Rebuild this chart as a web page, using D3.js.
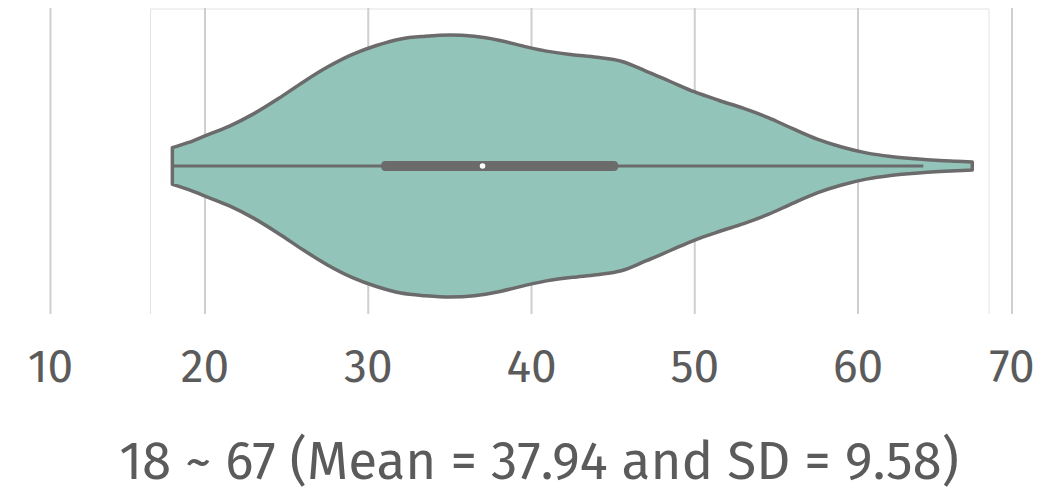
<!DOCTYPE html>
<html>
<head>
<meta charset="utf-8">
<script src="https://cdn.jsdelivr.net/npm/d3@7"></script>
<style>
  body { margin: 0; background: #fff; }
  text { font-family: "Fira Sans", "Noto Sans", sans-serif; fill: #5b5b5b; }
</style>
</head>
<body>
<div class="vizcontainer"></div>
<script>
// age grid of the density profile and its relative density (peak = 1)
const ages = [18, 19, 20, 21.5, 23, 24.5, 26, 27.5, 29, 30.5, 32, 33.5, 35, 36.5, 38, 39.5,
              41, 42.5, 44, 45.5, 47, 48.5, 50, 51.5, 53, 54.5, 56, 57.5, 59, 60.5, 62, 63.5,
              65, 66, 67];
const density = [0.14, 0.18, 0.23, 0.305, 0.40, 0.515, 0.64, 0.755, 0.85, 0.92, 0.97, 0.99, 1.0, 0.99,
                 0.96, 0.915, 0.875, 0.85, 0.83, 0.80, 0.725, 0.645, 0.565, 0.50, 0.44, 0.37, 0.285,
                 0.205, 0.145, 0.10, 0.072, 0.055, 0.042, 0.036, 0.03];

// inner box plot
const whiskers = [18, 64];
const quartiles = [30.8, 45.3];
const median = 37;

const tickValues = [10, 20, 30, 40, 50, 60, 70];
const caption = "18 ~ 67 (Mean = 37.94 and SD = 9.58)";

const W = 1058, H = 494;
const midY = 166;
const grid = { top: 8, bottom: 314 };
const frame = { left: 150.5, right: 989, top: 9, bottom: 314 };

var svg = d3.select(".vizcontainer")
  .append("svg")
  .attr("width", W)
  .attr("height", H);

svg.append("rect").attr("width", W).attr("height", H).attr("fill", "#fff");

// data scale
var x = d3.scaleLinear().domain([20, 60]).range([205, 858]);
// axis as drawn (outer ticks pulled in a little)
var xAxisScale = d3.scaleLinear().domain([10, 20, 60, 70]).range([50.5, 205, 858, 1012]);
var w = d3.scaleLinear().domain([0, 1]).range([0, 131]);

// frame
svg.append("path")
  .attr("d", `M${frame.left},${frame.bottom}V${frame.top}H${frame.right}V${frame.bottom}`)
  .attr("fill", "none")
  .attr("stroke", "#e3e3e3")
  .attr("stroke-width", 1);

// grid
svg.append("g")
  .selectAll("line")
  .data(tickValues)
  .enter()
  .append("line")
  .attr("x1", d => xAxisScale(d))
  .attr("x2", d => xAxisScale(d))
  .attr("y1", grid.top)
  .attr("y2", grid.bottom)
  .attr("stroke", "#cfcfcf")
  .attr("stroke-width", 2);

// tick labels
svg.append("g")
  .selectAll("text")
  .data(tickValues)
  .enter()
  .append("text")
  .attr("x", d => xAxisScale(d))
  .attr("y", 382)
  .attr("text-anchor", "middle")
  .attr("font-size", 46)
  .text(d => d);

// violin
var pts = ages.map((a, i) => [a, density[i]]);
var area = d3.area()
  .x(d => x(d[0]))
  .y0(d => midY + w(d[1]))
  .y1(d => midY - w(d[1]))
  .curve(d3.curveCatmullRom);

svg.append("path")
  .datum(pts)
  .attr("d", d => area(d) + "Z")
  .attr("fill", "#92c4ba")
  .attr("stroke", "#6b6b6b")
  .attr("stroke-width", 3.5)
  .attr("stroke-linejoin", "round");

// whisker line
svg.append("line")
  .attr("x1", x(whiskers[0]))
  .attr("x2", x(whiskers[1]))
  .attr("y1", midY)
  .attr("y2", midY)
  .attr("stroke", "#6b6b6b")
  .attr("stroke-width", 3);

// box
svg.append("rect")
  .attr("x", x(quartiles[0]))
  .attr("width", x(quartiles[1]) - x(quartiles[0]))
  .attr("y", midY - 5)
  .attr("height", 10)
  .attr("rx", 4)
  .attr("fill", "#6b6b6b");

svg.append("circle")
  .attr("cx", x(median))
  .attr("cy", midY)
  .attr("r", 2.8)
  .attr("fill", "#fff");

// caption
svg.append("text")
  .attr("x", (113 + 965) / 2)
  .attr("y", 479)
  .attr("text-anchor", "middle")
  .attr("font-size", 53)
  .text(caption);
</script>
</body>
</html>
